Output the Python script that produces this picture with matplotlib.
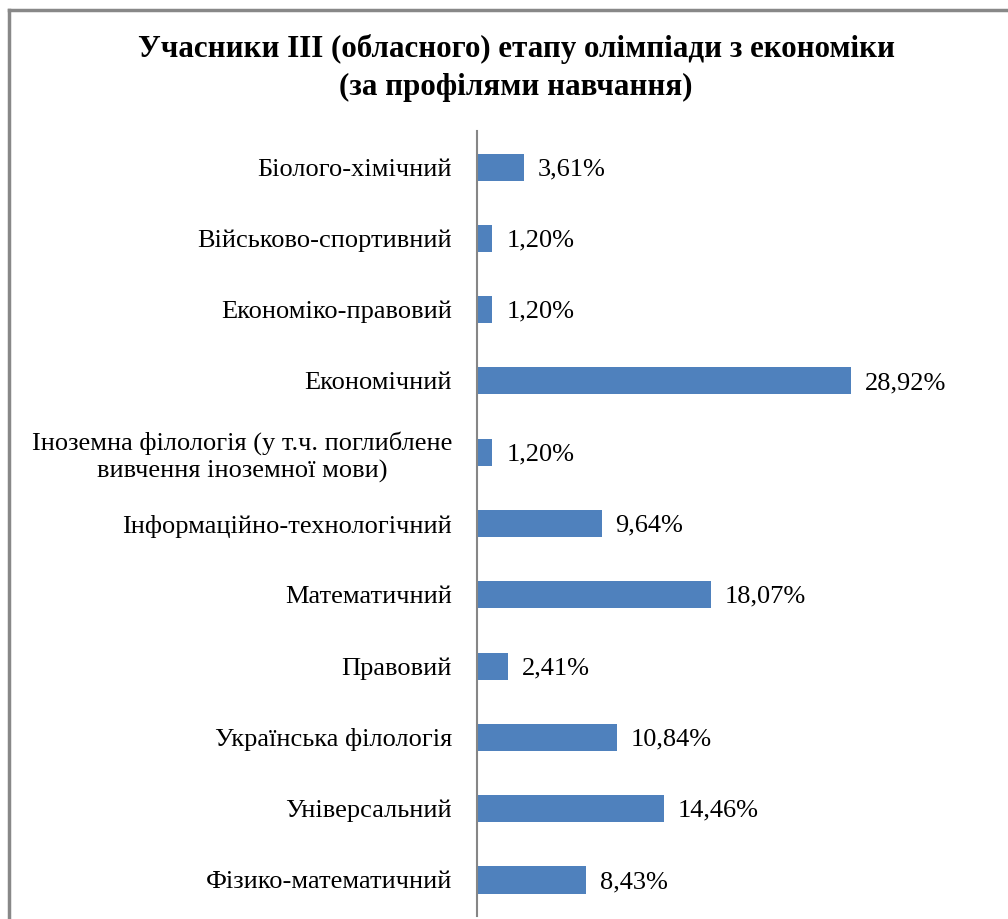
import matplotlib
matplotlib.use("Agg")
import matplotlib.pyplot as plt
from matplotlib.lines import Line2D

plt.rcParams['font.family'] = ['Liberation Serif', 'DejaVu Serif']

categories = [
    "Біолого-хімічний",
    "Військово-спортивний",
    "Економіко-правовий",
    "Економічний",
    "Іноземна філологія (у т.ч. поглиблене\nвивчення іноземної мови)",
    "Інформаційно-технологічний",
    "Математичний",
    "Правовий",
    "Українська філологія",
    "Універсальний",
    "Фізико-математичний",
]
values = [3.61, 1.20, 1.20, 28.92, 1.20, 9.64, 18.07, 2.41, 10.84, 14.46, 8.43]
title = "Учасники ІІІ (обласного) етапу олімпіади з економіки\n(за профілями навчання)"

BAR_COLOR = "#4F81BD"

fig = plt.figure(figsize=(10.08, 9.19), dpi=100)
ax = fig.add_axes([0.4732, 0.0037, 0.479, 0.8533])

ypos = list(range(len(categories)))
ax.barh(ypos, values, height=0.38, color=BAR_COLOR)
ax.set_ylim(len(categories) - 0.5, -0.5)
ax.set_xlim(0, 37.35)

ax.set_yticks(ypos)
ax.set_yticklabels(categories, fontsize=19, multialignment='center',
                   linespacing=1.25)
ax.tick_params(axis='y', length=0, pad=18)
ax.set_xticks([])

for s in ['top', 'right', 'bottom']:
    ax.spines[s].set_visible(False)
ax.spines['left'].set_color('#868686')
ax.spines['left'].set_linewidth(1.5)

for y, v in zip(ypos, values):
    ax.annotate(("%.2f" % v).replace('.', ',') + "%", (v, y),
                xytext=(10, -1.5), textcoords='offset points',
                va='center', ha='left', fontsize=19)

fig.text(0.512, 0.926, title, ha='center', va='center', fontsize=22.3,
         fontweight='bold', linespacing=1.42)

# chart border (left and top edges visible)
bx = 9 / 1008.
by = 1 - 10 / 919.
fig.add_artist(Line2D([bx, bx], [0, by], transform=fig.transFigure,
                      color='#888888', linewidth=2.5))
fig.add_artist(Line2D([bx, 1], [by, by], transform=fig.transFigure,
                      color='#888888', linewidth=2.5))

fig.savefig("out.png", dpi=100)
